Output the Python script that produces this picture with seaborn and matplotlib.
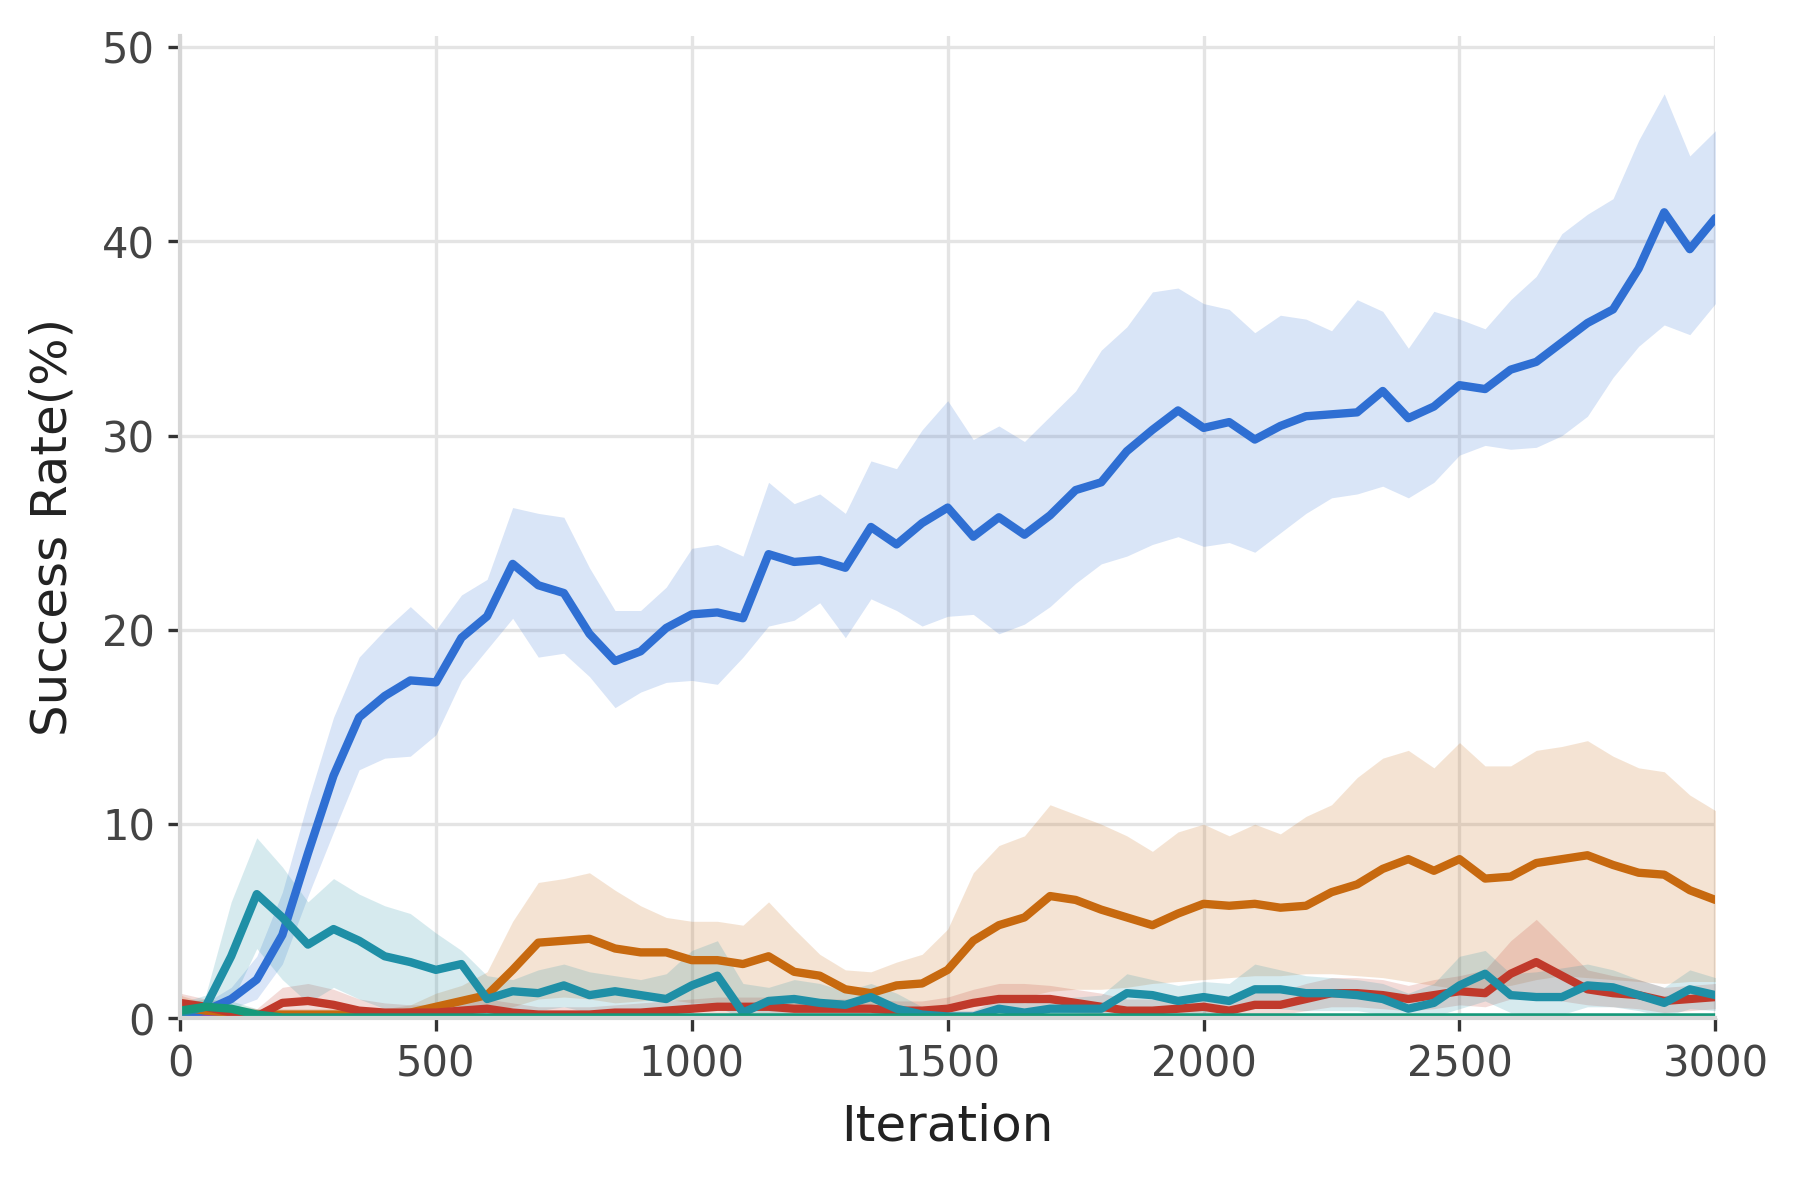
import numpy as np
import pandas as pd
import seaborn as sns
import matplotlib.pyplot as plt

# iterations sampled every 50 steps
iters = list(range(0, 3001, 50))

blue_mean = [0.2, 0.4, 1.0, 2.0, 4.3, 8.5, 12.5, 15.5, 16.6, 17.4,
             17.3, 19.6, 20.7, 23.4, 22.3, 21.9, 19.8, 18.4, 18.9, 20.1,
             20.8, 20.9, 20.6, 23.9, 23.5, 23.6, 23.2, 25.3, 24.4, 25.5,
             26.3, 24.8, 25.8, 24.9, 25.9, 27.2, 27.6, 29.2, 30.3, 31.3,
             30.4, 30.7, 29.8, 30.5, 31.0, 31.1, 31.2, 32.3, 30.9, 31.5,
             32.6, 32.4, 33.4, 33.8, 34.8, 35.8, 36.5, 38.6, 41.5, 39.6,
             41.2]
blue_hi = [0.6, 0.8, 1.6, 3.2, 6.5, 11.2, 15.5, 18.6, 20.0, 21.2,
           20.0, 21.8, 22.6, 26.3, 26.0, 25.8, 23.2, 21.0, 21.0, 22.2,
           24.2, 24.4, 23.8, 27.6, 26.5, 27.0, 26.0, 28.7, 28.3, 30.3,
           31.8, 29.8, 30.5, 29.7, 31.0, 32.3, 34.4, 35.6, 37.4, 37.6,
           36.8, 36.5, 35.3, 36.2, 36.0, 35.4, 37.0, 36.4, 34.5, 36.4,
           36.0, 35.5, 37.0, 38.2, 40.4, 41.4, 42.2, 45.2, 47.6, 44.4,
           45.7]
blue_lo = [0.0, 0.1, 0.5, 1.0, 2.8, 6.3, 9.6, 12.8, 13.4, 13.5,
           14.6, 17.4, 19.0, 20.6, 18.6, 18.8, 17.6, 16.0, 16.8, 17.3,
           17.4, 17.2, 18.6, 20.2, 20.5, 21.4, 19.6, 21.6, 21.0, 20.2,
           20.7, 20.8, 19.8, 20.3, 21.2, 22.4, 23.4, 23.8, 24.4, 24.8,
           24.3, 24.5, 24.0, 25.0, 26.0, 26.8, 27.0, 27.4, 26.8, 27.6,
           29.0, 29.5, 29.3, 29.4, 30.0, 31.0, 33.0, 34.6, 35.7, 35.2,
           36.8]

orange_mean = [0.6, 0.4, 0.3, 0.2, 0.2, 0.2, 0.2, 0.2, 0.2, 0.3,
               0.6, 0.9, 1.2, 2.5, 3.9, 4.0, 4.1, 3.6, 3.4, 3.4,
               3.0, 3.0, 2.8, 3.2, 2.4, 2.2, 1.5, 1.3, 1.7, 1.8,
               2.5, 4.0, 4.8, 5.2, 6.3, 6.1, 5.6, 5.2, 4.8, 5.4,
               5.9, 5.8, 5.9, 5.7, 5.8, 6.5, 6.9, 7.7, 8.2, 7.6,
               8.2, 7.2, 7.3, 8.0, 8.2, 8.4, 7.9, 7.5, 7.4, 6.6,
               6.1]
orange_hi = [1.2, 0.8, 0.6, 0.5, 0.5, 0.5, 0.5, 0.5, 0.5, 0.7,
             1.3, 1.7, 2.4, 5.0, 7.0, 7.2, 7.5, 6.6, 5.8, 5.2,
             5.0, 5.0, 4.8, 6.0, 4.6, 3.3, 2.5, 2.4, 2.9, 3.3,
             4.6, 7.5, 8.9, 9.4, 11.0, 10.5, 10.0, 9.4, 8.6, 9.6,
             10.0, 9.4, 10.0, 9.5, 10.4, 11.0, 12.4, 13.4, 13.8, 12.9,
             14.2, 13.0, 13.0, 13.8, 14.0, 14.3, 13.5, 12.9, 12.7, 11.5,
             10.7]
orange_lo = [0.1, 0.0, 0.0, 0.0, 0.0, 0.0, 0.0, 0.0, 0.0, 0.0,
             0.1, 0.2, 0.3, 0.6, 1.0, 1.1, 1.0, 0.8, 0.9, 1.0,
             0.8, 0.8, 0.7, 0.6, 0.4, 0.6, 0.5, 0.3, 0.4, 0.4,
             0.5, 0.6, 0.9, 1.1, 1.4, 1.5, 1.5, 1.6, 1.8, 1.9,
             2.0, 2.1, 2.2, 2.2, 2.3, 2.3, 2.2, 2.1, 1.9, 1.7,
             1.5, 1.5, 1.7, 2.0, 2.2, 2.1, 2.0, 1.9, 1.8, 1.9,
             1.9]

red_mean = [0.8, 0.6, 0.3, 0.1, 0.8, 0.9, 0.7, 0.4, 0.3, 0.3,
            0.3, 0.4, 0.5, 0.3, 0.2, 0.2, 0.2, 0.3, 0.3, 0.4,
            0.5, 0.6, 0.6, 0.6, 0.5, 0.5, 0.5, 0.5, 0.4, 0.4,
            0.5, 0.8, 1.0, 1.0, 1.0, 0.8, 0.6, 0.4, 0.4, 0.5,
            0.6, 0.4, 0.7, 0.7, 1.0, 1.3, 1.3, 1.2, 1.0, 1.2,
            1.4, 1.3, 2.3, 2.9, 2.2, 1.5, 1.3, 1.2, 0.9, 1.0,
            1.1]
red_hi = [1.3, 1.0, 0.7, 0.5, 1.6, 1.8, 1.5, 1.0, 0.8, 0.7,
          0.7, 0.9, 1.0, 0.8, 0.6, 0.6, 0.6, 0.7, 0.8, 0.9,
          1.0, 1.1, 1.1, 1.1, 1.0, 1.0, 1.0, 1.0, 0.9, 0.9,
          1.1, 1.5, 1.8, 1.8, 1.7, 1.5, 1.3, 1.0, 1.0, 1.1,
          1.3, 1.0, 1.4, 1.4, 1.8, 2.1, 2.1, 2.0, 1.7, 2.0,
          2.2, 2.5, 4.0, 5.1, 3.8, 2.5, 2.2, 2.0, 1.6, 1.7,
          1.8]
red_lo = [0.4, 0.2, 0.0, 0.0, 0.2, 0.3, 0.2, 0.0, 0.0, 0.0,
          0.0, 0.0, 0.1, 0.0, 0.0, 0.0, 0.0, 0.0, 0.0, 0.0,
          0.1, 0.2, 0.2, 0.2, 0.1, 0.1, 0.1, 0.1, 0.0, 0.0,
          0.1, 0.3, 0.4, 0.4, 0.4, 0.3, 0.2, 0.0, 0.0, 0.1,
          0.2, 0.0, 0.2, 0.2, 0.4, 0.6, 0.6, 0.5, 0.4, 0.5,
          0.7, 0.6, 1.0, 1.2, 0.9, 0.7, 0.6, 0.5, 0.3, 0.4,
          0.5]

teal_mean = [0.3, 0.6, 3.2, 6.4, 5.2, 3.8, 4.6, 4.0, 3.2, 2.9,
             2.5, 2.8, 1.0, 1.4, 1.3, 1.7, 1.2, 1.4, 1.2, 1.0,
             1.7, 2.2, 0.3, 0.9, 1.0, 0.8, 0.7, 1.1, 0.5, 0.2,
             0.1, 0.1, 0.5, 0.3, 0.5, 0.5, 0.5, 1.3, 1.2, 0.9,
             1.1, 0.9, 1.5, 1.5, 1.3, 1.3, 1.2, 1.0, 0.5, 0.8,
             1.7, 2.3, 1.2, 1.1, 1.1, 1.7, 1.6, 1.2, 0.8, 1.5,
             1.2]
teal_hi = [0.8, 1.2, 6.0, 9.3, 7.8, 6.0, 7.2, 6.4, 5.8, 5.4,
           4.4, 3.5, 2.2, 2.0, 2.5, 2.8, 2.4, 2.2, 2.0, 2.3,
           3.5, 4.0, 1.8, 1.6, 2.0, 1.8, 1.4, 1.8, 1.3, 0.6,
           0.4, 0.4, 1.0, 0.8, 1.0, 1.1, 1.2, 2.3, 2.0, 1.7,
           1.9, 1.8, 2.8, 2.5, 2.2, 2.1, 2.0, 1.8, 1.3, 1.8,
           3.2, 3.5, 2.3, 2.4, 2.6, 2.8, 2.5, 2.0, 1.6, 2.5,
           2.1]
teal_lo = [0.0, 0.1, 0.8, 3.6, 2.0, 0.8, 1.6, 1.0, 0.5, 0.3,
           0.3, 0.5, 0.2, 0.5, 0.4, 0.6, 0.3, 0.5, 0.4, 0.3,
           0.5, 0.6, 0.0, 0.2, 0.2, 0.1, 0.1, 0.3, 0.0, 0.0,
           0.0, 0.0, 0.0, 0.0, 0.0, 0.0, 0.0, 0.4, 0.4, 0.2,
           0.3, 0.2, 0.5, 0.5, 0.4, 0.4, 0.4, 0.2, 0.0, 0.1,
           0.5, 0.9, 0.3, 0.2, 0.2, 0.6, 0.6, 0.4, 0.1, 0.5,
           0.4]

# the two flat series only need a few points
flat_iters = [0, 50, 100, 150, 200, 3000]
green_mean = [0.4, 0.6, 0.5, 0.2, 0.05, 0.05]
green_hi = [0.8, 1.0, 0.9, 0.5, 0.3, 0.3]
green_lo = [0.0, 0.2, 0.1, 0.0, 0.0, 0.0]
purple_mean = [0.1, 0.1, 0.05, 0.0, 0.0, 0.0]

colors = {
    'purple': '#8e44ad',
    'blue': '#2f6fd3',
    'orange': '#c7690f',
    'red': '#c0392b',
    'teal': '#1f8fa6',
    'green': '#16997a',
}

series = [
    ('purple', flat_iters, purple_mean, None, None),
    ('blue', iters, blue_mean, blue_lo, blue_hi),
    ('orange', iters, orange_mean, orange_lo, orange_hi),
    ('red', iters, red_mean, red_lo, red_hi),
    ('teal', iters, teal_mean, teal_lo, teal_hi),
    ('green', flat_iters, green_mean, green_lo, green_hi),
]

sns.set_theme(style='whitegrid')
plt.rcParams['font.family'] = ['DejaVu Sans']

fig, ax = plt.subplots(figsize=(6, 3.957), dpi=300)
fig.subplots_adjust(left=0.1, right=0.953, bottom=0.142, top=0.97)

for name, x, mean, lo, hi in series:
    c = colors[name]
    if lo is not None:
        ax.fill_between(x, lo, hi, color=c, alpha=0.18, linewidth=0)
    df = pd.DataFrame({'Iteration': x, 'Success Rate(%)': mean})
    sns.lineplot(data=df, x='Iteration', y='Success Rate(%)', color=c,
                 linewidth=2.0, solid_joinstyle='round',
                 solid_capstyle='round', ax=ax)

ax.set_xlim(0, 3000)
ax.set_ylim(0, 50.6)
ax.set_xticks([0, 500, 1000, 1500, 2000, 2500, 3000])
ax.set_yticks([0, 10, 20, 30, 40, 50])

ax.grid(True, color='#e4e4e4', linewidth=0.8)
ax.tick_params(axis='both', which='major', labelsize=10, labelcolor='#444444',
               length=3, width=0.8, color='#333333', bottom=True, left=True, pad=3)
ax.set_xlabel('Iteration', fontsize=12, color='#222222', labelpad=4)
ax.set_ylabel('Success Rate(%)', fontsize=12, color='#222222', labelpad=6)

for side in ['top', 'right']:
    ax.spines[side].set_visible(False)
for side in ['left', 'bottom']:
    ax.spines[side].set_color('#d6d6d6')
    ax.spines[side].set_linewidth(1.0)

fig.savefig('out.png', dpi=300)
